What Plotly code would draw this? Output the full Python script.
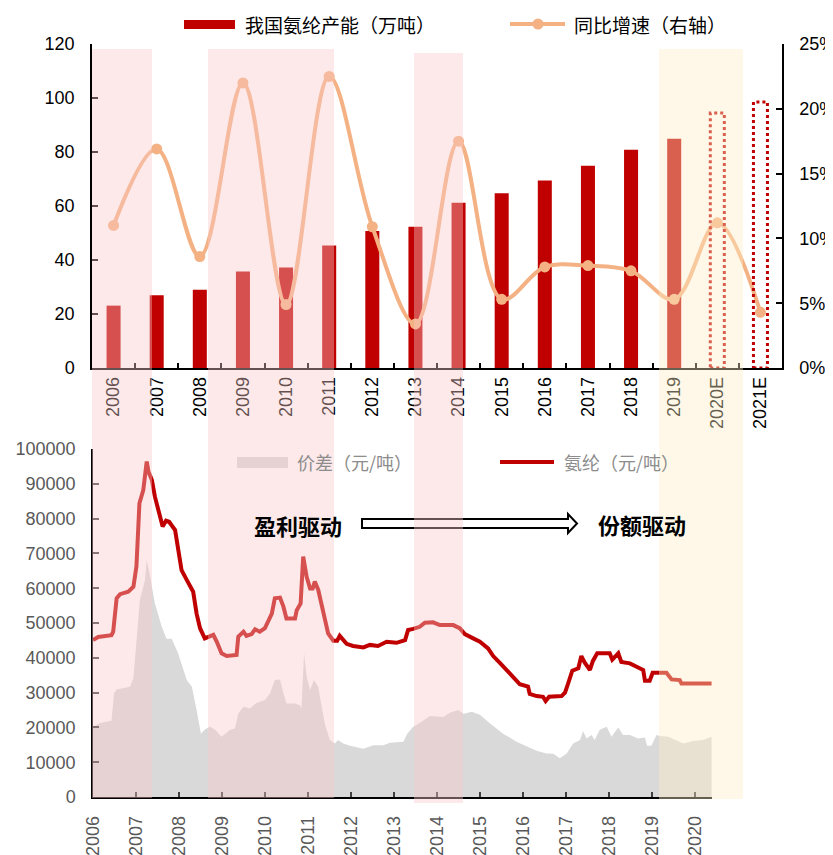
import plotly.graph_objects as go

# page body has an 8px default margin, so the figure is drawn 8px in from the corner
OFF = 8
W, H = 833 - OFF, 855 - OFF

# ---------------- data: top panel ----------------
years_cat = ["2006", "2007", "2008", "2009", "2010", "2011", "2012", "2013",
             "2014", "2015", "2016", "2017", "2018", "2019", "2020E", "2021E"]
capacity = [23.1, 26.9, 29.0, 35.7, 37.2, 45.4, 50.7, 52.3,
            61.2, 64.7, 69.4, 74.9, 80.8, 84.9, 94.4, 98.5]
is_estimate = [False] * 14 + [True, True]
growth = [0.110, 0.169, 0.086, 0.220, 0.049, 0.225, 0.109, 0.034,
          0.175, 0.053, 0.078, 0.079, 0.075, 0.053, 0.112, 0.043]

# ---------------- data: bottom panel ----------------
price_t = [2006.00, 2006.12, 2006.43, 2006.47, 2006.55, 2006.63, 2006.82, 2006.94,
           2007.01, 2007.08, 2007.17, 2007.25, 2007.29, 2007.37, 2007.44, 2007.56,
           2007.62, 2007.70, 2007.77, 2007.91, 2007.98, 2008.06, 2008.18, 2008.33,
           2008.41, 2008.49, 2008.60, 2008.80, 2008.88, 2008.99, 2009.11, 2009.34,
           2009.38, 2009.50, 2009.57, 2009.69, 2009.77, 2009.88, 2010.00, 2010.08,
           2010.16, 2010.23, 2010.35, 2010.43, 2010.50, 2010.70, 2010.74, 2010.83,
           2010.89, 2010.97, 2011.05, 2011.11, 2011.16, 2011.24, 2011.32, 2011.40,
           2011.47, 2011.59, 2011.68, 2011.74, 2011.82, 2011.90, 2012.05, 2012.29,
           2012.44, 2012.63, 2012.83, 2013.06, 2013.26, 2013.33, 2013.45, 2013.60,
           2013.72, 2013.91, 2014.07, 2014.38, 2014.53, 2014.65, 2014.81, 2015.00,
           2015.19, 2015.31, 2015.47, 2015.62, 2015.77, 2015.93, 2016.12, 2016.16,
           2016.32, 2016.47, 2016.53, 2016.61, 2016.90, 2016.98, 2017.05, 2017.15,
           2017.29, 2017.36, 2017.44, 2017.56, 2017.63, 2017.73, 2018.02, 2018.08,
           2018.22, 2018.29, 2018.49, 2018.64, 2018.80, 2018.84, 2018.95, 2019.02,
           2019.34, 2019.46, 2019.65, 2019.69, 2020.39]
price_v = [45100, 46000, 46500, 47500, 57100, 58300, 59000, 60400,
           66200, 84400, 88200, 96400, 93500, 91100, 86300, 81000,
           77700, 79400, 79100, 76700, 71000, 65200, 62400, 59000,
           52700, 48500, 45600, 46600, 44600, 41300, 40500, 40800,
           46100, 47500, 46300, 46800, 48200, 47500, 48500, 50900,
           52700, 57100, 57300, 54700, 51300, 51300, 53700, 55600,
           69100, 63300, 59900, 59900, 61900, 59500, 54700, 50400,
           47000, 44900, 44900, 46300, 45300, 44000, 43400, 43000,
           43700, 43400, 44600, 44300, 45100, 48000, 48300, 48900,
           50100, 50200, 49400, 49400, 48500, 46800, 45800, 44600,
           42700, 40500, 38500, 36600, 34600, 32400, 31700, 29600,
           29000, 28800, 27600, 28800, 29000, 30000, 32500, 36300,
           37000, 40500, 38600, 36500, 39100, 41300, 41300, 39500,
           41300, 38800, 38400, 37400, 36500, 33400, 33400, 35700,
           35700, 33800, 33600, 32600, 32600]

spread_t = [2006.00, 2006.16, 2006.43, 2006.49, 2006.55, 2006.86, 2006.94, 2007.09,
            2007.21, 2007.25, 2007.33, 2007.44, 2007.60, 2007.71, 2007.83, 2007.98,
            2008.18, 2008.30, 2008.41, 2008.51, 2008.60, 2008.72, 2008.84, 2008.99,
            2009.19, 2009.30, 2009.38, 2009.50, 2009.65, 2009.80, 2010.00, 2010.12,
            2010.23, 2010.35, 2010.43, 2010.50, 2010.70, 2010.81, 2010.85, 2010.91,
            2010.97, 2011.05, 2011.14, 2011.24, 2011.32, 2011.40, 2011.51, 2011.63,
            2011.70, 2011.82, 2011.98, 2012.29, 2012.52, 2012.75, 2012.91, 2013.22,
            2013.31, 2013.45, 2013.60, 2013.84, 2014.15, 2014.30, 2014.50, 2014.62,
            2014.81, 2015.00, 2015.23, 2015.54, 2015.85, 2016.08, 2016.32, 2016.55,
            2016.71, 2016.86, 2017.02, 2017.17, 2017.33, 2017.40, 2017.48, 2017.60,
            2017.67, 2017.79, 2017.95, 2018.06, 2018.22, 2018.33, 2018.49, 2018.68,
            2018.84, 2018.89, 2018.99, 2019.11, 2019.19, 2019.38, 2019.53, 2019.73,
            2019.96, 2020.19, 2020.39]
spread_v = [20200, 21300, 21900, 29800, 30900, 31700, 34100, 56600,
            62400, 68100, 63300, 55600, 48900, 45500, 45500, 41300,
            33600, 31700, 25000, 18200, 19400, 20200, 19300, 17300,
            19300, 19700, 24000, 25900, 25400, 27000, 27900, 29800,
            33600, 33800, 29800, 26900, 26900, 26400, 25400, 41300,
            34600, 30700, 33600, 31700, 25900, 20700, 16400, 15400,
            16400, 15400, 14700, 13900, 14900, 14900, 15600, 15900,
            18200, 20200, 21300, 23300, 23000, 24200, 25000, 23900,
            24500, 23600, 21200, 18200, 15900, 14700, 13300, 12500,
            12400, 11100, 12500, 15400, 16400, 19000, 16800, 17800,
            16400, 19300, 20200, 17300, 20000, 17800, 17800, 16800,
            17100, 14700, 14700, 17800, 17500, 17300, 16400, 15400,
            16100, 16400, 17300]

bottom_years = list(range(2006, 2021))

# ---------------- helpers (page pixel -> paper) ----------------
def px(x):
    return (x - OFF) / W

def py(y):
    return 1 - (y - OFF) / H

DARK_RED = "#c00000"
ORANGE = "#f4b183"
GRAY_FILL = "#d9d9d9"
NUM_FONT = "Liberation Sans, Arial, sans-serif"
CJK_FONT = "Noto Sans CJK SC, sans-serif"

fig = go.Figure()

n_actual = sum(1 for e in is_estimate if not e)
fig.add_trace(go.Bar(
    x=years_cat[:n_actual], y=capacity[:n_actual],
    marker=dict(color=DARK_RED, line=dict(width=0)),
    xaxis="x", yaxis="y", showlegend=False, name="我国氨纶产能（万吨）"))

fig.add_trace(go.Scatter(
    x=years_cat, y=growth, mode="lines+markers",
    line=dict(color=ORANGE, width=4, shape="spline", smoothing=1.0),
    marker=dict(color=ORANGE, size=11),
    xaxis="x", yaxis="y2", showlegend=False, name="同比增速（右轴）"))

fig.add_trace(go.Scatter(
    x=spread_t, y=spread_v, mode="lines", fill="tozeroy",
    fillcolor=GRAY_FILL, line=dict(width=0, color=GRAY_FILL),
    xaxis="x2", yaxis="y3", showlegend=False, name="价差（元/吨）"))

fig.add_trace(go.Scatter(
    x=price_t, y=price_v, mode="lines",
    line=dict(color=DARK_RED, width=4),
    xaxis="x2", yaxis="y3", showlegend=False, name="氨纶（元/吨）"))

shapes = []
# dotted outlines for estimated bars
bar_frac = 0.325
for i, (v, est) in enumerate(zip(capacity, is_estimate)):
    if est:
        shapes.append(dict(type="rect", xref="x", yref="y",
                           x0=i - bar_frac / 2, x1=i + bar_frac / 2, y0=0, y1=v,
                           line=dict(color=DARK_RED, width=3, dash="dot"),
                           fillcolor="rgba(0,0,0,0)", layer="above"))

# hollow arrow
arrow_pts = [(362, 519), (568, 519), (568, 514), (577, 523.5), (568, 533), (568, 528), (362, 528)]
path = "M " + " L ".join(f"{px(x):.5f},{py(y):.5f}" for x, y in arrow_pts) + " Z"
shapes.append(dict(type="path", xref="paper", yref="paper", path=path,
                   line=dict(color="black", width=2), fillcolor="white", layer="above"))

# legend symbols
shapes.append(dict(type="rect", xref="paper", yref="paper",
                   x0=px(184), x1=px(235), y0=py(29), y1=py(20),
                   fillcolor=DARK_RED, line=dict(width=0), layer="above"))
shapes.append(dict(type="line", xref="paper", yref="paper",
                   x0=px(510), x1=px(565), y0=py(24), y1=py(24),
                   line=dict(color=ORANGE, width=4), layer="above"))
shapes.append(dict(type="circle", xref="paper", yref="paper",
                   x0=px(532.5), x1=px(543.5), y0=py(29.5), y1=py(18.5),
                   fillcolor=ORANGE, line=dict(width=0), layer="above"))
shapes.append(dict(type="rect", xref="paper", yref="paper",
                   x0=px(237), x1=px(288), y0=py(468), y1=py(457),
                   fillcolor=GRAY_FILL, line=dict(width=0), layer="above"))
shapes.append(dict(type="line", xref="paper", yref="paper",
                   x0=px(500), x1=px(554), y0=py(462), y1=py(462),
                   line=dict(color=DARK_RED, width=4), layer="above"))

# shaded overlays (above everything), page-pixel extents
pink_boxes = [(92, 152, 49, 798), (208, 334, 49, 798), (414, 463, 53, 803)]
yellow_box = (659, 743, 49, 799)
for x0, x1, t, bt in pink_boxes:
    shapes.append(dict(type="rect", xref="paper", yref="paper",
                       x0=px(x0), x1=px(x1), y0=py(bt), y1=py(t),
                       fillcolor="rgba(250,200,200,0.4)", line=dict(width=0),
                       layer="above"))
x0, x1, t, bt = yellow_box
shapes.append(dict(type="rect", xref="paper", yref="paper",
                   x0=px(x0), x1=px(x1), y0=py(bt), y1=py(t),
                   fillcolor="rgba(255,238,198,0.4)", line=dict(width=0),
                   layer="above"))

annotations = [
    dict(text="我国氨纶产能（万吨）", x=px(243), y=py(24), xref="paper", yref="paper",
         xanchor="left", yanchor="middle", showarrow=False,
         font=dict(family=CJK_FONT, size=19, color="black")),
    dict(text="同比增速（右轴）", x=px(572), y=py(24), xref="paper", yref="paper",
         xanchor="left", yanchor="middle", showarrow=False,
         font=dict(family=CJK_FONT, size=19, color="black")),
    dict(text="价差（元/吨）", x=px(295), y=py(462), xref="paper", yref="paper",
         xanchor="left", yanchor="middle", showarrow=False,
         font=dict(family=CJK_FONT, size=18, color="#8c8c8c")),
    dict(text="氨纶（元/吨）", x=px(562), y=py(462), xref="paper", yref="paper",
         xanchor="left", yanchor="middle", showarrow=False,
         font=dict(family=CJK_FONT, size=18, color="#8c8c8c")),
    dict(text="<b>盈利驱动</b>", x=px(252), y=py(525), xref="paper", yref="paper",
         xanchor="left", yanchor="middle", showarrow=False,
         font=dict(family=CJK_FONT, size=22, color="black")),
    dict(text="<b>份额驱动</b>", x=px(596), y=py(524), xref="paper", yref="paper",
         xanchor="left", yanchor="middle", showarrow=False,
         font=dict(family=CJK_FONT, size=22, color="black")),
]

fig.update_layout(
    width=W, height=H,
    margin=dict(l=0, r=0, t=0, b=0, pad=0),
    paper_bgcolor="white", plot_bgcolor="rgba(0,0,0,0)",
    showlegend=False,
    bargap=1 - bar_frac,
    shapes=shapes,
    annotations=annotations,
    xaxis=dict(
        domain=[px(92), px(782)], anchor="y", type="category",
        categoryorder="array", categoryarray=years_cat, range=[-0.5, 15.5],
        showline=True, linecolor="black", linewidth=1.5,
        ticks="inside", ticklen=5, tickwidth=1.5, tickcolor="black",
        tickson="boundaries", tickangle=-90, ticklabelstandoff=0,
        tickfont=dict(family=NUM_FONT, size=18, color="black"),
        showgrid=False, zeroline=False, automargin=False, fixedrange=True),
    yaxis=dict(
        domain=[py(368), py(44)], anchor="x", range=[0, 120], dtick=20,
        showline=True, linecolor="black", linewidth=1.5,
        ticks="inside", ticklen=6, tickwidth=1.5, tickcolor="black",
        ticklabelstandoff=12,
        tickfont=dict(family=NUM_FONT, size=18, color="black"),
        showgrid=False, zeroline=False, automargin=False),
    yaxis2=dict(
        overlaying="y", side="right", anchor="x", range=[0, 0.25], dtick=0.05,
        tickformat=".0%",
        showline=True, linecolor="black", linewidth=1.5,
        ticks="inside", ticklen=6, tickwidth=1.5, tickcolor="black",
        ticklabelstandoff=12,
        tickfont=dict(family=NUM_FONT, size=18, color="black"),
        showgrid=False, zeroline=False, automargin=False),
    xaxis2=dict(
        domain=[px(93), px(712)], anchor="y3", range=[2006, 2020.4],
        tickvals=bottom_years, ticktext=[str(y) for y in bottom_years],
        showline=True, linecolor="black", linewidth=1.5,
        ticks="inside", ticklen=5, tickwidth=1.5, tickcolor="#404040",
        tickangle=-90, ticklabelstandoff=10,
        tickfont=dict(family=NUM_FONT, size=18, color="#595959"),
        showgrid=False, zeroline=False, automargin=False),
    yaxis3=dict(
        domain=[py(797), py(449)], anchor="x2", range=[0, 100000], dtick=10000,
        tickformat="d",
        showline=True, linecolor="black", linewidth=1.5,
        ticks="inside", ticklen=6, tickwidth=1.5, tickcolor="#404040",
        ticklabelstandoff=12,
        tickfont=dict(family=NUM_FONT, size=18, color="#595959"),
        showgrid=False, zeroline=False, automargin=False),
)

fig.write_html("out.html")
